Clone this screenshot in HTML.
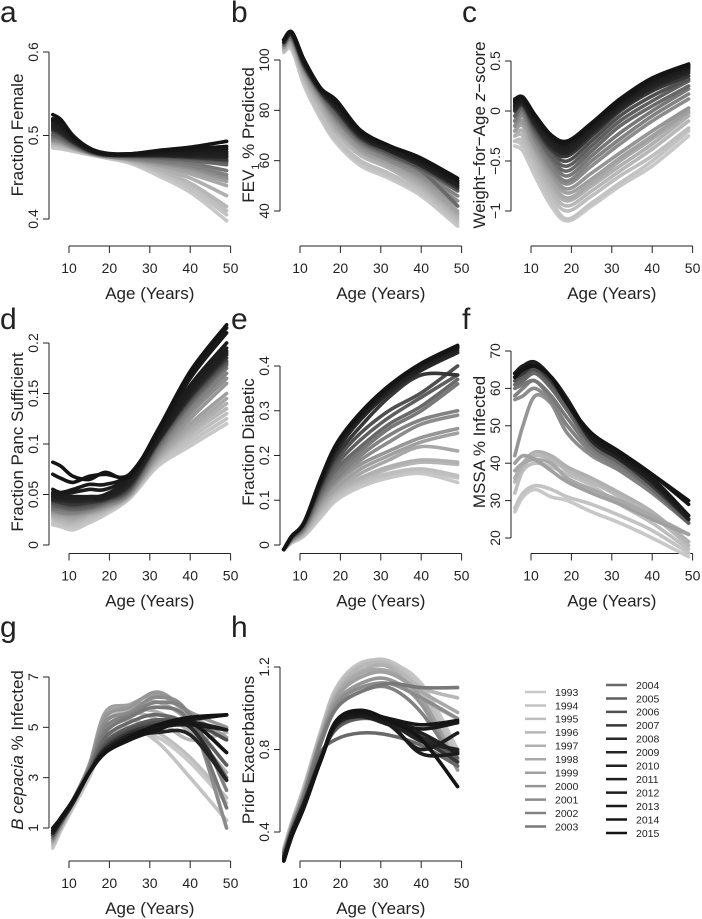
<!DOCTYPE html>
<html><head><meta charset="utf-8"><style>
html,body{margin:0;padding:0;background:#fff;}
svg{display:block;font-family:"Liberation Sans",Arial,sans-serif;}
</style></head><body>
<svg id="fig" width="702" height="919" viewBox="0 0 702 919" xmlns="http://www.w3.org/2000/svg">
<g id="static" fill="#222">
<text x="0" y="22" font-size="30">a</text>
<text x="231" y="22" font-size="30">b</text>
<text x="462" y="22" font-size="30">c</text>
<text x="0" y="329" font-size="30">d</text>
<text x="231" y="329" font-size="30">e</text>
<text x="462" y="329" font-size="30">f</text>
<text x="0" y="637" font-size="30">g</text>
<text x="231" y="637" font-size="30">h</text>
<g font-size="17" text-anchor="middle">
<text transform="translate(23,135) rotate(-90)">Fraction Female</text>
<text transform="translate(254,135) rotate(-90)">FEV<tspan font-size="11" dy="5">1</tspan><tspan dy="-5"> % Predicted</tspan></text>
<text transform="translate(485,135) rotate(-90)">Weight−for−Age <tspan font-style="italic">z</tspan>−score</text>
<text transform="translate(23,442) rotate(-90)">Fraction Panc Sufficient</text>
<text transform="translate(254,442) rotate(-90)">Fraction Diabetic</text>
<text transform="translate(485,442) rotate(-90)">MSSA % Infected</text>
<text transform="translate(23,750) rotate(-90)"><tspan font-style="italic">B cepacia</tspan> % Infected</text>
<text transform="translate(254,750) rotate(-90)">Prior Exacerbations</text>
</g>
</g>
<g id="plots"></g>
<g id="legend"></g>
</svg>
<script>
const ages = [6, 8, 11, 15, 19, 25, 32, 40, 49];
const years = [1993,1994,1995,1996,1997,1998,1999,2000,2001,2002,2003,2004,2005,2006,2007,2008,2009,2010,2011,2012,2013,2014,2015];
const xTicks = [10, 20, 30, 40, 50];

const fracFemale = [
[.485,.484,.481,.477,.473,.467,.452,.432,.398],
[.487,.485,.482,.478,.474,.468,.455,.436,.405],
[.489,.487,.483,.478,.474,.469,.457,.440,.410],
[.490,.488,.484,.479,.475,.470,.459,.443,.415],
[.491,.489,.484,.479,.475,.470,.461,.449,.428],
[.492,.490,.485,.479,.475,.471,.464,.454,.440],
[.493,.491,.485,.479,.475,.471,.465,.457,.445],
[.494,.492,.486,.479,.475,.472,.467,.460,.448],
[.495,.493,.486,.479,.475,.472,.468,.462,.450],
[.497,.494,.487,.480,.475,.473,.469,.464,.453],
[.498,.495,.488,.480,.476,.474,.471,.467,.458],
[.500,.497,.489,.480,.476,.475,.473,.470,.465],
[.502,.498,.490,.481,.476,.475,.474,.472,.468],
[.505,.500,.491,.481,.477,.476,.475,.473,.470],
[.507,.502,.492,.482,.477,.476,.476,.474,.471],
[.508,.504,.493,.482,.477,.476,.476,.475,.474],
[.510,.506,.494,.482,.477,.476,.477,.476,.475],
[.512,.508,.495,.483,.477,.477,.477,.477,.477],
[.514,.510,.496,.483,.478,.477,.478,.478,.479],
[.516,.512,.497,.484,.478,.477,.479,.480,.481],
[.518,.514,.498,.484,.478,.478,.480,.482,.484],
[.520,.516,.499,.485,.478,.478,.481,.484,.487],
[.525,.519,.500,.485,.479,.478,.482,.486,.493]];
const fev1 = [
[103,104,90,77,67,58,53,46,34],
[103,105,91,78,68,59,54,47,35],
[104,105,92,79,69,60,55,48,36],
[104,106,93,81,71,62,57,49,37],
[104,106,94,82,72,63,57,50,38],
[105,107,94,83,73,64,58,51,39],
[105,107,95,84,74,64,59,52,40],
[105,108,96,85,75,65,60,53,42],
[106,108,96,85,76,66,60,54,44],
[106,108,97,86,77,67,61,55,46],
[106,109,97,86,77,67,62,56,48],
[106,109,97,87,78,68,62,56,42],
[107,109,98,87,79,68,63,57,48],
[107,110,98,87,80,69,63,57,49],
[107,110,98,88,80,69,64,58,49],
[107,110,99,88,81,70,64,58,50],
[107,110,99,88,81,70,64,59,50],
[108,111,99,88,82,70,65,59,50],
[108,111,99,89,82,71,65,59,51],
[108,111,100,89,83,71,65,60,51],
[108,111,100,89,83,71,66,60,52],
[108,111,100,89,83,72,66,61,52],
[108,111,100,89,84,72,66,61,53]];
const weightZ = [
[-0.35,-0.4,-0.65,-0.95,-1.1,-0.95,-0.75,-0.55,-0.25],
[-0.3,-0.35,-0.6,-0.9,-1.08,-0.92,-0.72,-0.5,-0.2],
[-0.3,-0.3,-0.55,-0.85,-1.0,-0.85,-0.65,-0.45,-0.17],
[-0.25,-0.25,-0.5,-0.8,-0.95,-0.8,-0.6,-0.38,-0.1],
[-0.25,-0.2,-0.45,-0.75,-0.9,-0.75,-0.55,-0.33,-0.05],
[-0.2,-0.15,-0.4,-0.7,-0.87,-0.72,-0.5,-0.28,-0.02],
[-0.2,-0.12,-0.38,-0.65,-0.82,-0.68,-0.47,-0.25,0.0],
[-0.15,-0.1,-0.35,-0.62,-0.78,-0.62,-0.42,-0.2,0.03],
[-0.15,-0.05,-0.3,-0.58,-0.73,-0.55,-0.33,-0.1,0.12],
[-0.1,-0.02,-0.28,-0.55,-0.7,-0.5,-0.28,-0.05,0.17],
[-0.1,0.0,-0.25,-0.5,-0.65,-0.45,-0.22,0.0,0.22],
[-0.05,0.02,-0.22,-0.47,-0.6,-0.4,-0.15,0.05,0.25],
[-0.05,0.04,-0.2,-0.44,-0.55,-0.35,-0.1,0.1,0.3],
[0.0,0.05,-0.18,-0.4,-0.5,-0.3,-0.05,0.15,0.32],
[0.0,0.06,-0.15,-0.38,-0.45,-0.25,0.0,0.2,0.35],
[0.02,0.07,-0.13,-0.35,-0.42,-0.22,0.02,0.23,0.38],
[0.04,0.08,-0.11,-0.33,-0.4,-0.2,0.04,0.25,0.4],
[0.05,0.09,-0.1,-0.3,-0.37,-0.18,0.06,0.27,0.42],
[0.06,0.1,-0.08,-0.28,-0.35,-0.17,0.07,0.28,0.43],
[0.08,0.11,-0.07,-0.27,-0.33,-0.15,0.08,0.3,0.44],
[0.1,0.12,-0.06,-0.26,-0.32,-0.14,0.09,0.31,0.45],
[0.1,0.13,-0.05,-0.25,-0.31,-0.13,0.1,0.32,0.46],
[0.12,0.14,-0.04,-0.24,-0.3,-0.12,0.12,0.33,0.47]];
const pancSuff = [
[.020,.018,.015,.022,.030,.046,.078,.098,.120],
[.022,.020,.018,.024,.032,.047,.080,.102,.125],
[.025,.022,.020,.026,.033,.048,.082,.106,.130],
[.027,.024,.022,.028,.034,.048,.083,.110,.135],
[.028,.026,.024,.030,.035,.049,.085,.113,.140],
[.030,.028,.026,.031,.036,.049,.086,.116,.145],
[.031,.030,.028,.032,.037,.050,.088,.120,.150],
[.033,.031,.030,.033,.038,.050,.090,.125,.160],
[.034,.032,.031,.034,.039,.051,.092,.130,.165],
[.035,.033,.032,.035,.040,.052,.094,.134,.170],
[.036,.035,.034,.036,.041,.053,.096,.138,.175],
[.038,.037,.035,.037,.042,.054,.098,.140,.178],
[.040,.038,.036,.038,.043,.055,.100,.142,.180],
[.042,.040,.038,.040,.044,.056,.101,.144,.182],
[.044,.042,.040,.042,.045,.058,.102,.146,.185],
[.045,.044,.043,.044,.046,.060,.103,.148,.188],
[.047,.046,.045,.046,.047,.062,.104,.150,.190],
[.048,.047,.047,.047,.048,.064,.105,.152,.192],
[.050,.048,.048,.048,.050,.066,.106,.154,.195],
[.052,.050,.052,.055,.055,.068,.108,.158,.200],
[.055,.052,.055,.060,.060,.070,.110,.165,.210],
[.070,.066,.062,.068,.070,.070,.112,.170,.215],
[.082,.078,.068,.065,.072,.068,.114,.172,.218]];
const diabetic = [
[-.01,.005,.02,.06,.10,.13,.15,.16,.14],
[-.01,.006,.022,.065,.105,.135,.155,.165,.15],
[-.01,.007,.024,.07,.11,.14,.16,.17,.155],
[-.01,.008,.026,.075,.115,.145,.17,.185,.18],
[-.01,.009,.028,.08,.12,.15,.175,.19,.185],
[-.01,.01,.03,.085,.125,.16,.19,.22,.21],
[-.01,.01,.032,.09,.13,.17,.2,.23,.25],
[-.01,.011,.034,.095,.14,.18,.21,.24,.26],
[-.01,.012,.036,.1,.145,.19,.23,.27,.29],
[-.01,.013,.038,.105,.15,.2,.245,.28,.30],
[-.01,.014,.04,.11,.16,.21,.26,.3,.36],
[-.01,.015,.042,.115,.17,.22,.27,.31,.37],
[-.01,.016,.044,.12,.18,.235,.285,.33,.38],
[-.01,.017,.046,.125,.19,.25,.3,.34,.40],
[-.01,.018,.048,.13,.2,.265,.33,.38,.38],
[-.01,.019,.05,.135,.21,.28,.34,.39,.43],
[-.01,.02,.05,.138,.215,.285,.345,.395,.435],
[-.01,.02,.05,.14,.218,.288,.35,.40,.44],
[-.01,.02,.05,.14,.22,.29,.35,.40,.44],
[-.01,.02,.05,.142,.222,.292,.352,.402,.442],
[-.01,.02,.05,.143,.224,.294,.354,.404,.443],
[-.01,.02,.05,.144,.225,.295,.355,.405,.445],
[-.01,.02,.05,.145,.226,.296,.356,.406,.446]];
const mssa = [
[27,31,33,31,30,27,24,20,15],
[28,32,34,33,31,29,26,22,16],
[32,38,40,39,37,34,29,24,17],
[35,39,42,41,38,35,31,26,18],
[36,40,43,42,39,36,32,27,19],
[38,40,41,40,36,33,30,26,21],
[40,42,41,38,35,32,29,25,21],
[42,50,58,56,50,43,39,33,24],
[57,58,60,56,48,42,38,32,24],
[58,60,62,57,50,43,38,32,24],
[60,61,62,58,52,44,39,33,24],
[61,62,64,60,54,45,40,33,24],
[62,63,65,61,55,45,40,34,24],
[62,64,65,62,56,46,41,34,25],
[63,64,66,62,56,46,41,34,25],
[63,65,66,63,57,46,41,35,25],
[63,65,66,63,57,47,41,35,25],
[64,65,66,63,57,47,42,35,25],
[64,66,66,63,57,47,42,35,26],
[64,66,67,63,57,47,42,36,26],
[64,65,66,63,56,47,42,36,26],
[63,65,66,63,56,48,43,37,29],
[63,65,66,63,56,48,43,37,30]];
const bcepacia = [
[0.2,0.9,1.8,3.0,4.4,4.8,4.6,3.6,2.0],
[0.3,1.0,1.9,3.1,4.5,5.0,4.4,3.0,1.3],
[0.3,1.0,1.9,3.2,4.8,5.3,4.8,3.8,2.2],
[0.4,1.0,2.0,3.3,5.2,5.6,5.3,4.5,4.8],
[0.4,1.1,2.0,3.4,5.5,5.7,5.6,4.8,3.2],
[0.5,1.1,2.0,3.4,5.6,5.8,6.0,5.2,3.5],
[0.5,1.1,2.1,3.5,5.6,5.9,6.3,5.5,4.6],
[0.5,1.1,2.1,3.5,5.4,5.8,6.4,5.6,5.0],
[0.6,1.2,2.1,3.4,5.2,5.6,6.2,5.4,1.0],
[0.6,1.2,2.1,3.4,5.0,5.5,6.0,5.5,2.5],
[0.6,1.2,2.0,3.3,4.8,5.4,5.8,5.2,1.8],
[0.7,1.2,2.0,3.3,4.6,5.2,5.5,5.0,3.0],
[0.7,1.2,2.0,3.2,4.4,5.0,5.3,5.1,3.5],
[0.7,1.3,2.0,3.2,4.3,4.9,5.2,5.2,4.5],
[0.8,1.3,2.0,3.2,4.2,4.8,5.1,5.2,4.0],
[0.8,1.3,2.0,3.2,4.1,4.7,5.0,5.0,2.9],
[0.8,1.3,2.0,3.2,4.1,4.6,4.8,4.7,2.9],
[0.8,1.3,2.1,3.2,4.1,4.7,5.0,5.2,4.9],
[0.9,1.3,2.1,3.2,4.1,4.6,5.1,5.3,5.5],
[0.9,1.4,2.1,3.2,4.0,4.6,5.0,5.1,4.9],
[0.9,1.4,2.1,3.2,4.0,4.5,5.0,5.3,5.5],
[0.9,1.4,2.1,3.2,4.0,4.5,4.9,5.2,4.0],
[1.0,1.4,2.1,3.2,4.0,4.6,5.1,5.4,5.5]];
const exacerb = [
[0.32,0.45,0.62,0.88,1.10,1.22,1.22,1.12,0.80],
[0.32,0.45,0.62,0.88,1.10,1.21,1.23,1.10,0.78],
[0.31,0.44,0.61,0.87,1.09,1.21,1.22,1.08,0.75],
[0.31,0.44,0.61,0.87,1.08,1.20,1.21,1.10,1.05],
[0.31,0.44,0.60,0.86,1.07,1.18,1.20,1.05,0.95],
[0.30,0.43,0.60,0.85,1.06,1.17,1.18,1.08,0.98],
[0.30,0.43,0.59,0.85,1.05,1.15,1.17,1.05,0.72],
[0.30,0.43,0.59,0.84,1.03,1.12,1.14,1.02,0.70],
[0.30,0.42,0.58,0.84,1.02,1.10,1.12,1.05,0.95],
[0.30,0.42,0.58,0.83,1.00,1.08,1.10,0.98,0.72],
[0.30,0.42,0.58,0.82,1.00,1.08,1.12,1.10,1.10],
[0.29,0.41,0.56,0.78,0.85,0.88,0.87,0.82,0.72],
[0.28,0.41,0.55,0.76,0.90,0.95,0.93,0.86,0.76],
[0.28,0.40,0.55,0.75,0.91,0.96,0.93,0.86,0.78],
[0.28,0.40,0.54,0.75,0.92,0.97,0.94,0.85,0.74],
[0.27,0.40,0.54,0.75,0.92,0.97,0.94,0.86,0.79],
[0.27,0.40,0.54,0.74,0.92,0.96,0.93,0.84,0.80],
[0.27,0.39,0.53,0.74,0.92,0.96,0.92,0.88,0.78],
[0.27,0.39,0.53,0.74,0.93,0.96,0.92,0.80,0.88],
[0.26,0.39,0.53,0.74,0.93,0.97,0.93,0.78,0.78],
[0.26,0.39,0.53,0.74,0.93,0.97,0.94,0.90,0.93],
[0.26,0.38,0.52,0.74,0.94,0.98,0.95,0.92,0.94],
[0.26,0.38,0.52,0.74,0.94,0.99,0.94,0.85,0.62]];

const ticksA = [0.4, 0.5, 0.6];
const ticksB = [40, 60, 80, 100];
const ticksC = [-1, -0.5, 0, 0.5];
const ticksD = [0, 0.05, 0.1, 0.15, 0.2];
const ticksE = [0, 0.1, 0.2, 0.3, 0.4];
const ticksF = [20, 30, 40, 50, 60, 70];
const ticksG = [1, 3, 5, 7];
const ticksH = [0.4, 0.8, 1.2];

const NS = "http://www.w3.org/2000/svg";
const grays = [200,195,190,183,176,168,160,150,140,130,120,105,95,80,55,40,35,32,30,28,25,22,20];
function gray(i){const v=grays[i];return `rgb(${v},${v},${v})`;}

const panels = [
 {k:'a', data:fracFemale, ticks:ticksA, col:0,row:0, v0:0.4,p0:219, v1:0.6,p1:52},
 {k:'b', data:fev1, ticks:ticksB, col:1,row:0, v0:40,p0:211, v1:100,p1:60},
 {k:'c', data:weightZ, ticks:ticksC, col:2,row:0, v0:-1,p0:211, v1:0.5,p1:61},
 {k:'d', data:pancSuff, ticks:ticksD, col:0,row:1, v0:0,p0:237.5, v1:0.2,p1:35.5},
 {k:'e', data:diabetic, ticks:ticksE, col:1,row:1, v0:0,p0:237.5, v1:0.4,p1:58.5},
 {k:'f', data:mssa, ticks:ticksF, col:2,row:1, v0:20,p0:230.5, v1:70,p1:43.5},
 {k:'g', data:bcepacia, ticks:ticksG, col:0,row:2, v0:1,p0:213, v1:7,p1:62},
 {k:'h', data:exacerb, ticks:ticksH, col:1,row:2, v0:0.4,p0:217, v1:1.2,p1:52}
];

function mk(tag, attrs, parent){const e=document.createElementNS(NS,tag);for(const k in attrs)e.setAttribute(k,attrs[k]);parent.appendChild(e);return e;}
function smooth(pts){
 let d=`M${pts[0][0].toFixed(1)},${pts[0][1].toFixed(1)}`;
 for(let i=0;i<pts.length-1;i++){
  const p0=pts[i-1]||pts[i],p1=pts[i],p2=pts[i+1],p3=pts[i+2]||p2;
  const c1=[p1[0]+(p2[0]-p0[0])/6,p1[1]+(p2[1]-p0[1])/6];
  const c2=[p2[0]-(p3[0]-p1[0])/6,p2[1]-(p3[1]-p1[1])/6];
  d+=`C${c1[0].toFixed(1)},${c1[1].toFixed(1)} ${c2[0].toFixed(1)},${c2[1].toFixed(1)} ${p2[0].toFixed(1)},${p2[1].toFixed(1)}`;
 }
 return d;
}
function fmt(v){return String(v).replace(/^-/,'−');}

const plots=document.getElementById('plots');
panels.forEach(p=>{
 const ox=p.col*231, oy=p.row*307.5;
 const xs=a=>69+ox+(a-10)*4.04;
 const ys=v=>oy+p.p0+(v-p.v0)*(p.p1-p.p0)/(p.v1-p.v0);
 const g=mk('g',{},plots);
 
 
 // y axis
 const ya=mk('g',{stroke:'#222','stroke-width':1},g);
 
 
 const t0=p.ticks[0],t1=p.ticks[p.ticks.length-1];
 mk('line',{x1:49+ox,x2:49+ox,y1:ys(t0),y2:ys(t1)},ya);
 p.ticks.forEach(t=>{
  mk('line',{x1:43+ox,x2:49+ox,y1:ys(t),y2:ys(t)},ya);
  const tx=mk('text',{transform:`translate(${38+ox},${ys(t)}) rotate(-90)`,'text-anchor':'middle','font-size':14,fill:'#222',stroke:'none'},ya);
  
  
  tx.textContent=fmt(t);
 });
 // x axis
 const xa=mk('g',{stroke:'#222','stroke-width':1},g);
 
 
 const ay=oy+246;
 mk('line',{x1:xs(xTicks[0]),x2:xs(xTicks[xTicks.length-1]),y1:ay,y2:ay},xa);
 xTicks.forEach(t=>{
  mk('line',{x1:xs(t),x2:xs(t),y1:ay,y2:ay+7},xa);
  const tx=mk('text',{x:xs(t),y:ay+27,'text-anchor':'middle','font-size':14,fill:'#222',stroke:'none'},xa);
  
  
  tx.textContent=t;
 });
 const xt=mk('text',{x:xs(30),y:ay+53,'text-anchor':'middle','font-size':17,fill:'#222',stroke:'none'},xa);
 
 
 xt.textContent='Age (Years)';
 // series
 p.data.forEach((row,i)=>{
  const pts=row.map((v,j)=>[xs(ages[j]),ys(v)]);
  const path=mk('path',{d:smooth(pts),fill:'none',stroke:gray(i),'stroke-width':3.6,'stroke-linecap':'round','stroke-linejoin':'round'},g);
  
  
 });
});

// legend
const lg=document.getElementById('legend');


years.forEach((yr,i)=>{
 const c2=i>=11, k=c2?i-11:i;
 const lx=c2?606:525, ly=(c2?685:692)+k*13.45;
 const e=mk('g',{},lg);
 
 
 mk('line',{x1:lx,x2:lx+21,y1:ly,y2:ly,stroke:gray(i),'stroke-width':2.5},e);
 const t=mk('text',{x:lx+30,y:ly+3.8,'font-size':10.5,fill:'#222'},e);
 t.textContent=yr;
});
</script>
</body></html>
